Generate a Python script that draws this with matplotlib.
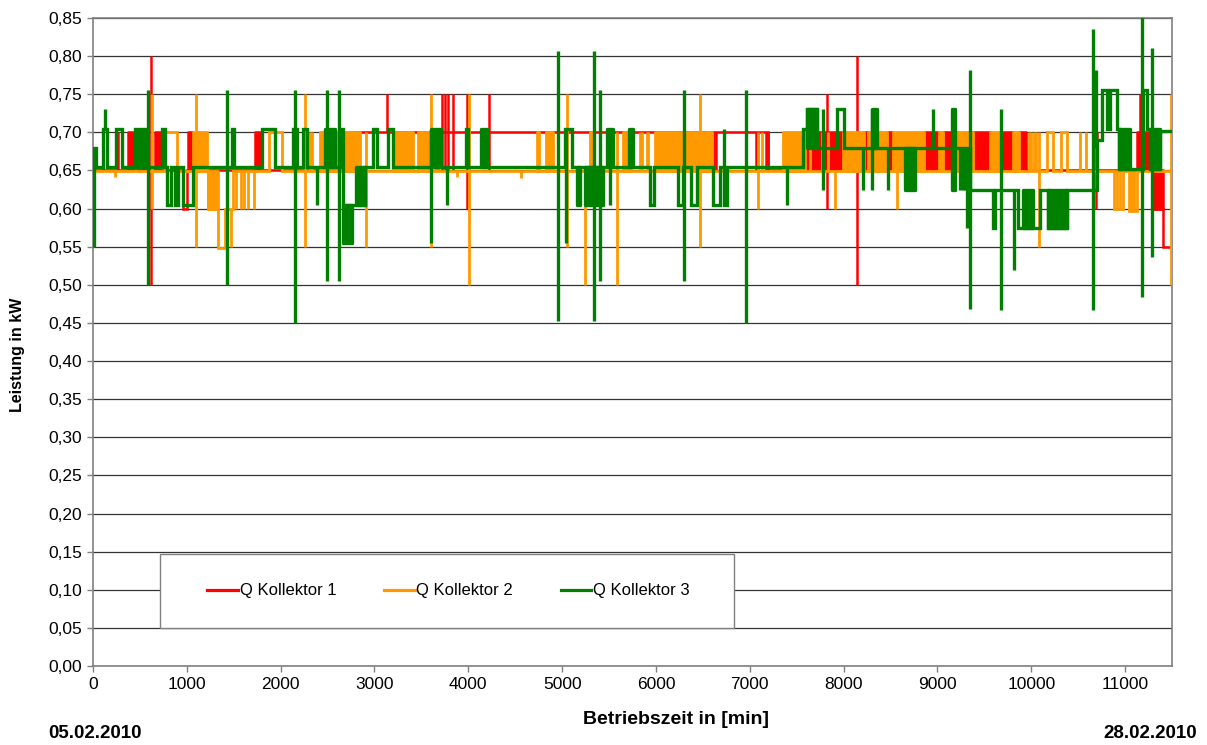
import matplotlib
matplotlib.use("Agg")
import matplotlib.pyplot as plt
from matplotlib.ticker import FuncFormatter, MultipleLocator
from matplotlib.lines import Line2D
from matplotlib.patches import Rectangle

plt.rcParams['font.family'] = ['Liberation Sans', 'DejaVu Sans']

# ---------------- data ----------------
series_names = ["Q Kollektor 1", "Q Kollektor 2", "Q Kollektor 3"]
series_colors = ["#FF0000", "#FF9900", "#008000"]

# Q Kollektor 1 (red): step changes
red_t = [0, 960, 1000, 2700, 7195, 11300, 11400, 11500]
red_v = [0.65, 0.60, 0.65, 0.70, 0.65, 0.60, 0.55, 0.55]
# short spikes: time, upper value, lower value
red_spk_t = [110, 263, 618, 2450, 2560, 3137, 3717, 3752, 3788, 3834, 3983, 4221,
             6620, 6640, 7065, 7085, 7170, 7190, 7821, 8140, 10690, 10705, 11160]
red_spk_hi = [0.70, 0.70, 0.80, 0.70, 0.70, 0.75, 0.75, 0.75, 0.75, 0.75, 0.75, 0.75,
              0.70, 0.70, 0.70, 0.70, 0.70, 0.70, 0.75, 0.80, 0.75, 0.70, 0.75]
red_spk_lo = [0.65, 0.65, 0.50, 0.65, 0.65, 0.70, 0.65, 0.65, 0.65, 0.65, 0.60, 0.65,
              0.65, 0.65, 0.65, 0.65, 0.65, 0.65, 0.60, 0.50, 0.60, 0.65, 0.65]
# dense oscillation regions: start, end, low, high
red_band_s = [375, 476, 525, 661, 1013, 1727, 7570, 8225, 8460, 8870, 9060, 9115,
              9380, 9670, 9870, 11130, 11300]
red_band_e = [427, 500, 555, 714, 1055, 1780, 7985, 8265, 8520, 9010, 9100, 9210,
              9560, 9810, 9945, 11250, 11400]
red_band_lo = [0.65, 0.65, 0.65, 0.65, 0.65, 0.65, 0.65, 0.65, 0.65, 0.65, 0.65, 0.65,
               0.65, 0.65, 0.65, 0.65, 0.60]
red_band_hi = [0.70, 0.70, 0.70, 0.70, 0.70, 0.70, 0.70, 0.70, 0.70, 0.70, 0.70, 0.70,
               0.70, 0.70, 0.70, 0.70, 0.65]

# Q Kollektor 2 (orange)
orange_t = [0, 765, 900, 1228, 1335, 1407, 1493, 1880, 2015, 10173, 10230, 10316, 10380,
            10877, 10912, 10948, 10983, 11037, 11126, 11500]
orange_v = [0.649, 0.70, 0.649, 0.60, 0.548, 0.60, 0.649, 0.70, 0.649, 0.70, 0.649, 0.70, 0.649,
            0.60, 0.649, 0.60, 0.649, 0.597, 0.649, 0.649]
orange_spk_t = [230, 625, 1098, 1475, 1528, 1578, 1612, 1648, 1718, 2260, 2313, 2330, 2906,
                3600, 3653, 3675, 3880, 4008, 4560, 5050, 5245, 5582, 5831, 5849, 5902, 5920,
                6470, 7092, 7130, 7640, 7765, 7835, 7910, 8567, 9975, 10000, 10030, 10055,
                10078, 10522, 10586, 11060, 11080, 11100, 11490]
orange_spk_hi = [0.649, 0.75, 0.75, 0.60, 0.649, 0.649, 0.649, 0.649, 0.649, 0.75, 0.70, 0.70, 0.70,
                 0.75, 0.70, 0.70, 0.649, 0.75, 0.649, 0.75, 0.649, 0.70, 0.70, 0.70, 0.70, 0.70,
                 0.75, 0.70, 0.70, 0.70, 0.70, 0.70, 0.649, 0.649, 0.70, 0.70, 0.70, 0.70,
                 0.70, 0.70, 0.70, 0.649, 0.649, 0.649, 0.75]
orange_spk_lo = [0.641, 0.60, 0.55, 0.55, 0.60, 0.60, 0.60, 0.60, 0.60, 0.55, 0.649, 0.649, 0.55,
                 0.55, 0.649, 0.649, 0.641, 0.50, 0.640, 0.55, 0.50, 0.50, 0.649, 0.649, 0.649, 0.649,
                 0.55, 0.60, 0.649, 0.649, 0.649, 0.649, 0.60, 0.60, 0.649, 0.649, 0.649, 0.649,
                 0.55, 0.649, 0.649, 0.597, 0.597, 0.597, 0.50]
orange_band_s = [1070, 1228, 2420, 3200, 3468, 4736, 4829, 5298, 5646, 5991, 7359, 7990,
                 8265, 8525, 9015, 9210, 9560, 9810]
orange_band_e = [1212, 1335, 2846, 3414, 3592, 4758, 4907, 5333, 5724, 6595, 7590, 8220,
                 8460, 8860, 9058, 9375, 9665, 9868]
orange_band_lo = [0.649, 0.60, 0.649, 0.649, 0.649, 0.649, 0.649, 0.649, 0.649, 0.649, 0.649, 0.649,
                  0.649, 0.649, 0.649, 0.649, 0.649, 0.649]
orange_band_hi = [0.70, 0.649, 0.70, 0.70, 0.70, 0.70, 0.70, 0.70, 0.70, 0.70, 0.70, 0.70,
                  0.70, 0.70, 0.70, 0.70, 0.70, 0.70]

# Q Kollektor 3 (green)
green_t = [0, 30, 105, 150, 245, 310, 450, 470, 500, 520, 555, 575, 735, 770, 790, 830, 875, 905,
           960, 1070, 1480, 1500, 1800, 1940, 2130, 2170, 2240, 2280, 2640, 2665, 2900, 2985, 3030,
           3145, 3200, 3975, 4000, 5030, 5105, 5940, 5980, 6240, 6290, 6375, 6440, 6610, 6685,
           6730, 6760, 7570, 7606, 7713, 7928, 7999, 9349, 9597, 9615, 9860, 10095, 10180, 10380,
           10700, 10750, 10805, 10840, 10912, 10930, 11195, 11235, 11270, 11375, 11500]
green_v = [0.68, 0.655, 0.705, 0.655, 0.705, 0.655, 0.705, 0.655, 0.705, 0.655, 0.705, 0.655,
           0.705, 0.655, 0.605, 0.655, 0.605, 0.655, 0.605, 0.655, 0.705, 0.655, 0.705, 0.655,
           0.705, 0.655, 0.705, 0.655, 0.705, 0.605, 0.655, 0.705, 0.655, 0.705, 0.655, 0.705,
           0.655, 0.705, 0.655, 0.605, 0.655, 0.605, 0.655, 0.605, 0.655, 0.605, 0.655, 0.605,
           0.655, 0.705, 0.73, 0.68, 0.73, 0.68, 0.625, 0.575, 0.625, 0.575, 0.625, 0.575, 0.625,
           0.69, 0.755, 0.705, 0.755, 0.705, 0.652, 0.755, 0.705, 0.652, 0.702, 0.702]
green_spk_t = [10, 130, 590, 1430, 2155, 2390, 2490, 2625, 3600, 3775, 4955, 5040, 5340, 5400,
               5510, 6300, 6720, 6960, 7400, 7785, 8212, 8301, 8478, 8958, 9242, 9270, 9296,
               9320, 9342, 9679, 9821, 10663, 10692, 11178, 11285]
green_spk_hi = [0.68, 0.73, 0.755, 0.755, 0.755, 0.655, 0.755, 0.755, 0.705, 0.655, 0.807, 0.705,
                0.807, 0.755, 0.705, 0.755, 0.705, 0.755, 0.655, 0.73, 0.68, 0.73, 0.68, 0.73,
                0.68, 0.68, 0.68, 0.68, 0.782, 0.73, 0.625, 0.835, 0.782, 0.87, 0.81]
green_spk_lo = [0.55, 0.705, 0.50, 0.50, 0.45, 0.605, 0.505, 0.505, 0.555, 0.605, 0.452, 0.555,
                0.452, 0.505, 0.605, 0.505, 0.655, 0.45, 0.605, 0.625, 0.625, 0.625, 0.625, 0.68,
                0.625, 0.625, 0.625, 0.575, 0.468, 0.467, 0.52, 0.467, 0.68, 0.484, 0.537]
green_band_s = [2475, 2665, 2800, 3600, 4135, 5160, 5245, 5480, 5710, 7606, 8301, 8656, 9154,
                9915, 10180, 10930, 11270]
green_band_e = [2580, 2760, 2900, 3710, 4200, 5190, 5435, 5545, 5760, 7713, 8354, 8763, 9189,
                10020, 10380, 11055, 11375]
green_band_lo = [0.655, 0.555, 0.605, 0.655, 0.655, 0.605, 0.605, 0.655, 0.655, 0.68, 0.68, 0.625,
                 0.625, 0.575, 0.575, 0.652, 0.652]
green_band_hi = [0.705, 0.605, 0.655, 0.705, 0.705, 0.655, 0.655, 0.705, 0.705, 0.73, 0.73, 0.68,
                 0.73, 0.625, 0.625, 0.705, 0.705]

x_ticks = list(range(0, 12000, 1000))
start_date = "05.02.2010"
end_date = "28.02.2010"

# ---------------- figure ----------------
fig = plt.figure(figsize=(12.07, 7.45), dpi=100)
ax = fig.add_axes([93 / 1207, 1 - 666 / 745, (1172 - 93) / 1207, (666 - 18) / 745])

ax.set_xlim(0, 11500)
ax.set_ylim(0, 0.85)
ax.yaxis.set_major_locator(MultipleLocator(0.05))
ax.yaxis.set_major_formatter(FuncFormatter(lambda v, _: f"{v:.2f}".replace('.', ',')))
ax.set_xticks(x_ticks)
ax.grid(axis='y', color='#333333', linewidth=0.9, zorder=0)
ax.set_axisbelow(True)
for s in ax.spines.values():
    s.set_color('#808080')
    s.set_linewidth(1.2)
ax.tick_params(axis='both', direction='out', length=4, width=1, color='#808080',
               labelsize=12.5, pad=4)

series = [
    (red_t, red_v, red_spk_t, red_spk_hi, red_spk_lo, red_band_s, red_band_e, red_band_lo, red_band_hi, 1.8),
    (orange_t, orange_v, orange_spk_t, orange_spk_hi, orange_spk_lo, orange_band_s, orange_band_e,
     orange_band_lo, orange_band_hi, 2.0),
    (green_t, green_v, green_spk_t, green_spk_hi, green_spk_lo, green_band_s, green_band_e,
     green_band_lo, green_band_hi, 2.4),
]
for i, (t, v, st, shi, slo, bs, be, blo, bhi, lw) in enumerate(series):
    c = series_colors[i]
    z = 2 + i
    ax.plot(t, v, drawstyle='steps-post', color=c, lw=lw, zorder=z, solid_joinstyle='miter')
    ax.vlines(st, slo, shi, color=c, lw=lw, zorder=z)
    for s0, e0, lo, hi in zip(bs, be, blo, bhi):
        ax.fill_between([s0, e0], [lo, lo], [hi, hi], color=c, lw=lw, edgecolor=c, zorder=z)

# legend box
ax.add_patch(Rectangle((67 / 1079, 38 / 648), 574 / 1079, 74 / 648, transform=ax.transAxes,
                       facecolor='white', edgecolor='#808080', lw=1.0, zorder=10))
handles = [Line2D([], [], color=c, lw=2.3) for c in series_colors]
leg = ax.legend(handles, series_names, loc='center', bbox_to_anchor=((448.5 - 93) / 1079, 75 / 648),
                ncol=3, frameon=False, fontsize=12, handlelength=1.85, handletextpad=0.1,
                columnspacing=2.85)
leg.set_zorder(11)

fig.text(18 / 1207, 1 - 355 / 745, "Leistung in kW", rotation=90, ha='center', va='center',
         fontsize=11.5, fontweight='bold')
fig.text(676 / 1207, 1 - 719 / 745, "Betriebszeit in [min]", ha='center', va='center',
         fontsize=14, fontweight='bold')
fig.text(48 / 1207, 1 - 733 / 745, start_date, ha='left', va='center', fontsize=13.5, fontweight='bold')
fig.text(1197 / 1207, 1 - 733 / 745, end_date, ha='right', va='center', fontsize=13.5, fontweight='bold')

fig.savefig("out.png", dpi=100)
